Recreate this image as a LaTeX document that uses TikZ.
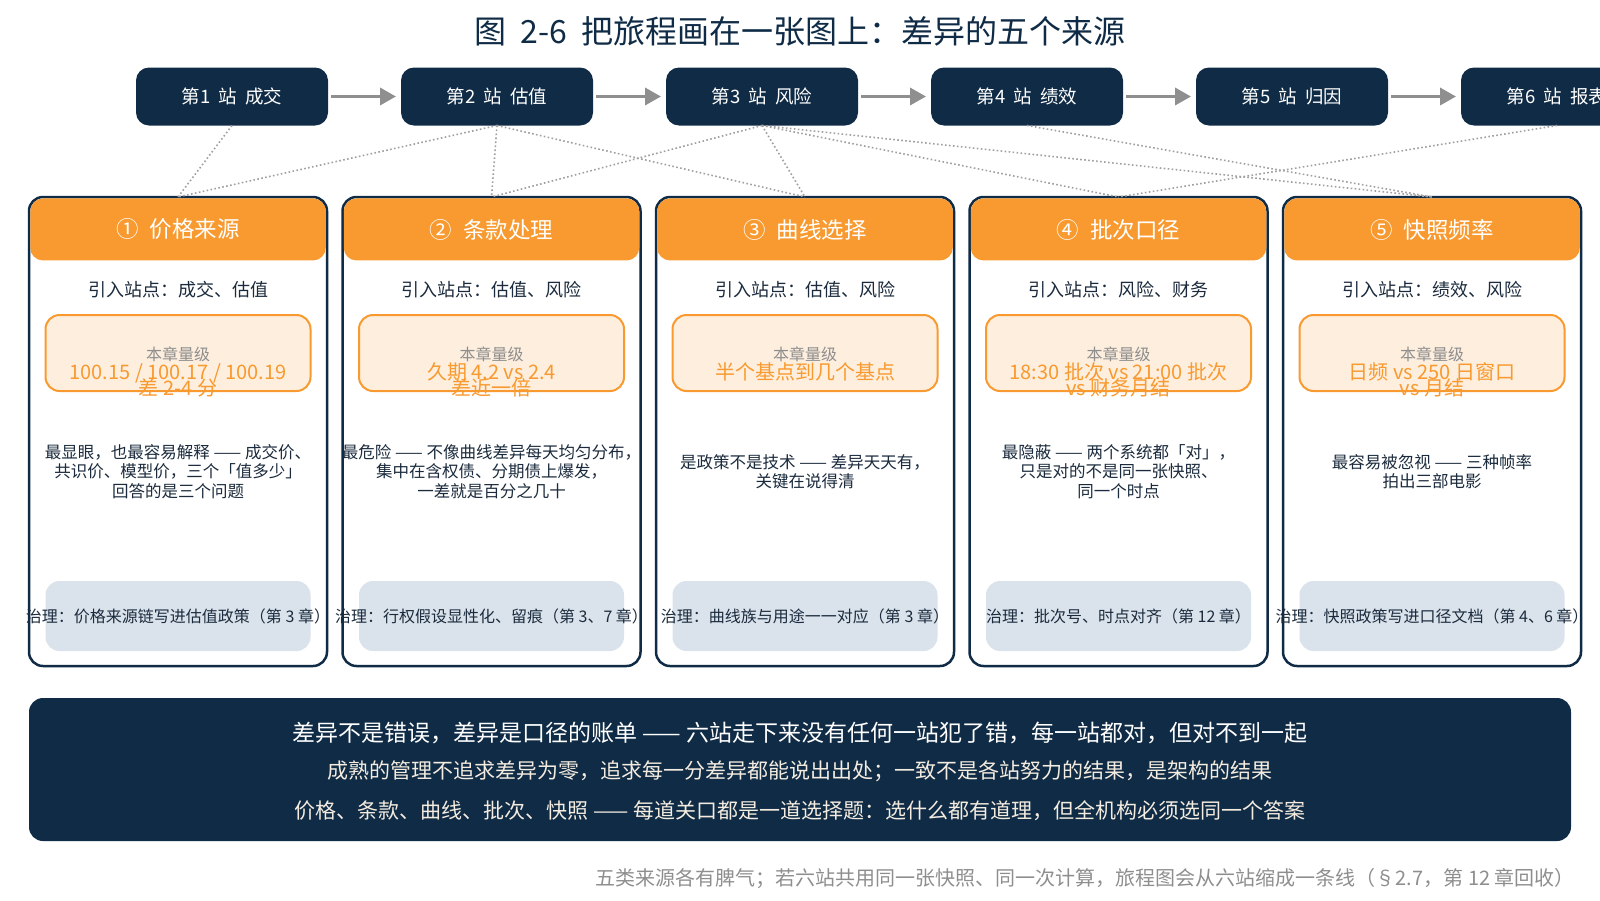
\documentclass[tikz,border=0pt]{standalone}
\usepackage{fontspec}
\setmainfont{Noto Sans CJK SC}
\usetikzlibrary{positioning,arrows.meta}
\definecolor{navyBlue}{HTML}{0F2B45}
\definecolor{sourceOrange}{HTML}{F89A2F}
\definecolor{paleOrange}{HTML}{FDEEDD}
\definecolor{paleSlate}{HTML}{DAE3EC}
\definecolor{arrowGray}{HTML}{8F8F8F}
\definecolor{dotGray}{HTML}{A0A0A0}
\definecolor{tagGray}{HTML}{8E8E8E}
\definecolor{inkNavy}{HTML}{1B2B3D}
\definecolor{creamWhite}{HTML}{F4ECE0}
\newcommand{\cardGap}[0]{15.5pt}
\newcommand{\stationGap}[0]{73pt}
\newcommand{\wideSpace}[0]{\hspace{0.45em}}
\newcommand{\sourceCard}[7]{%
  \node[cardHead] (H-#1) at ([yshift=-1.25pt]C-#1.north) {#2};
  \node[enterText] (E-#1) at ([yshift=-93pt]C-#1.north) {#3};
  \node[levelBox] (L-#1) at ([yshift=-156pt]C-#1.north) {};
  \node[levelTag] (T-#1) at ([yshift=-157pt]C-#1.north) {本章量级};
  \node[levelValue] (V-#1) at ([yshift=-163pt]C-#1.north) {\rule{0pt}{19pt}#4\\\smash{#5}};
  \node[noteText] (N-#1) at ([yshift=-274.5pt]C-#1.north) {#6};
  \node[govBox] (G-#1) at ([yshift=-419pt]C-#1.north) {};
  \node[govText] (GT-#1) at (G-#1) {#7};
}

\begin{document}
\begin{tikzpicture}[x=1pt, y=-1pt]
  \tikzset{
    station/.style={fill=navyBlue, text=white, rounded corners=13pt, minimum width=192pt,
      minimum height=58pt, inner sep=0pt, outer sep=0pt, font=\fontsize{18.5}{22}\selectfont},
    flow/.style={draw=arrowGray, line width=3.5pt, -{Triangle[length=16pt,width=17pt]},
      shorten <=3pt, shorten >=5pt},
    feeds/.style={draw=dotGray, line width=1.6pt, dash pattern=on 1.6pt off 2.4pt},
    card/.style={draw=navyBlue, fill=white, line width=2.5pt, rounded corners=14pt,
      minimum width=298pt, minimum height=469pt, inner sep=0pt, outer sep=0pt},
    cardHead/.style={anchor=north, fill=sourceOrange, text=white, rounded corners=12.75pt,
      minimum width=295.5pt, minimum height=62pt, inner sep=0pt, font=\fontsize{22.5}{26}\selectfont},
    enterText/.style={text=inkNavy, inner sep=0pt, font=\fontsize{18}{22}\selectfont},
    levelBox/.style={draw=sourceOrange, fill=paleOrange, line width=2pt, rounded corners=14pt,
      minimum width=265pt, minimum height=76pt},
    levelTag/.style={text=tagGray, inner sep=0pt, font=\fontsize{16}{19}\selectfont},
    levelValue/.style={anchor=north, align=center, text=sourceOrange, inner sep=0pt,
      font=\fontsize{20}{16}\selectfont},
    noteText/.style={align=center, text=inkNavy, inner sep=0pt, font=\fontsize{16.5}{19.5}\selectfont},
    govBox/.style={fill=paleSlate, rounded corners=14pt, minimum width=265pt, minimum height=70pt},
    govText/.style={text=inkNavy, inner sep=0pt, font=\fontsize{16}{19}\selectfont},
    banner/.style={fill=navyBlue, rounded corners=14pt, minimum width=1542pt, minimum height=143pt}
  }
  \useasboundingbox (0,0) rectangle (1600,900);

  \node[text=navyBlue, font=\fontsize{32}{36}\selectfont] (title) at (800,31)
    {图\wideSpace 2-6\wideSpace 把旅程画在一张图上：差异的五个来源};

  \node[station] (S-1) at (232,96.5) {第1\wideSpace 站\wideSpace 成交};
  \node[station, right=\stationGap of S-1] (S-2) {第2\wideSpace 站\wideSpace 估值};
  \node[station, right=\stationGap of S-2] (S-3) {第3\wideSpace 站\wideSpace 风险};
  \node[station, right=\stationGap of S-3] (S-4) {第4\wideSpace 站\wideSpace 绩效};
  \node[station, right=\stationGap of S-4] (S-5) {第5\wideSpace 站\wideSpace 归因};
  \node[station, right=\stationGap of S-5] (S-6) {第6\wideSpace 站\wideSpace 报表};
  \draw[flow] (S-1) -- (S-2);
  \draw[flow] (S-2) -- (S-3);
  \draw[flow] (S-3) -- (S-4);
  \draw[flow] (S-4) -- (S-5);
  \draw[flow] (S-5) -- (S-6);

  \node[card] (C-1) at (178,431.5) {};
  \node[card, right=\cardGap of C-1] (C-2) {};
  \node[card, right=\cardGap of C-2] (C-3) {};
  \node[card, right=\cardGap of C-3] (C-4) {};
  \node[card, right=\cardGap of C-4] (C-5) {};

  \draw[feeds] (S-1.south) -- (C-1.north);
  \draw[feeds] (S-2.south) -- (C-1.north);
  \draw[feeds] (S-2.south) -- (C-2.north);
  \draw[feeds] (S-2.south) -- (C-3.north);
  \draw[feeds] (S-3.south) -- (C-2.north);
  \draw[feeds] (S-3.south) -- (C-3.north);
  \draw[feeds] (S-3.south) -- (C-4.north);
  \draw[feeds] (S-3.south) -- (C-5.north);
  \draw[feeds] (S-4.south) -- (C-5.north);
  \draw[feeds] (S-6.south) -- (C-4.north);

  \sourceCard{1}{①\enspace 价格来源}{引入站点：成交、估值}
    {100.15 / 100.17 / 100.19}{差 2-4 分}
    {最显眼，也最容易解释 —— 成交价、\\共识价、模型价，三个「值多少」\\回答的是三个问题}
    {治理：价格来源链写进估值政策（第 3 章）}
  \sourceCard{2}{②\enspace 条款处理}{引入站点：估值、风险}
    {久期 4.2 vs 2.4}{差近一倍}
    {最危险 —— 不像曲线差异每天均匀分布，\\集中在含权债、分期债上爆发，\\一差就是百分之几十}
    {治理：行权假设显性化、留痕（第 3、7 章）}
  \sourceCard{3}{③\enspace 曲线选择}{引入站点：估值、风险}
    {半个基点到几个基点}{}
    {是政策不是技术 —— 差异天天有，\\关键在说得清}
    {治理：曲线族与用途一一对应（第 3 章）}
  \sourceCard{4}{④\enspace 批次口径}{引入站点：风险、财务}
    {18:30 批次 vs 21:00 批次}{vs 财务月结}
    {最隐蔽 —— 两个系统都「对」，\\只是对的不是同一张快照、\\同一个时点}
    {治理：批次号、时点对齐（第 12 章）}
  \sourceCard{5}{⑤\enspace 快照频率}{引入站点：绩效、风险}
    {日频 vs 250 日窗口}{vs 月结}
    {最容易被忽视 —— 三种帧率\\拍出三部电影}
    {治理：快照政策写进口径文档（第 4、6 章）}

  \node[banner] (B) at (800,769.5) {};
  \node[text=white, font=\fontsize{23}{26}\selectfont] (B-1) at (800,733)
    {差异不是错误，差异是口径的账单 —— 六站走下来没有任何一站犯了错，每一站都对，但对不到一起};
  \node[text=creamWhite, font=\fontsize{21}{24}\selectfont] (B-2) at (800,771)
    {成熟的管理不追求差异为零，追求每一分差异都能说出出处；一致不是各站努力的结果，是架构的结果};
  \node[text=creamWhite, font=\fontsize{21}{24}\selectfont] (B-3) at (800,811)
    {价格、条款、曲线、批次、快照 —— 每道关口都是一道选择题：选什么都有道理，但全机构必须选同一个答案};

  \node[anchor=east, text=tagGray, inner sep=0pt, font=\fontsize{20}{22}\selectfont] (foot) at (1575,879)
    {五类来源各有脾气；若六站共用同一张快照、同一次计算，旅程图会从六站缩成一条线（§2.7，第 12 章回收）};
\end{tikzpicture}
\end{document}
